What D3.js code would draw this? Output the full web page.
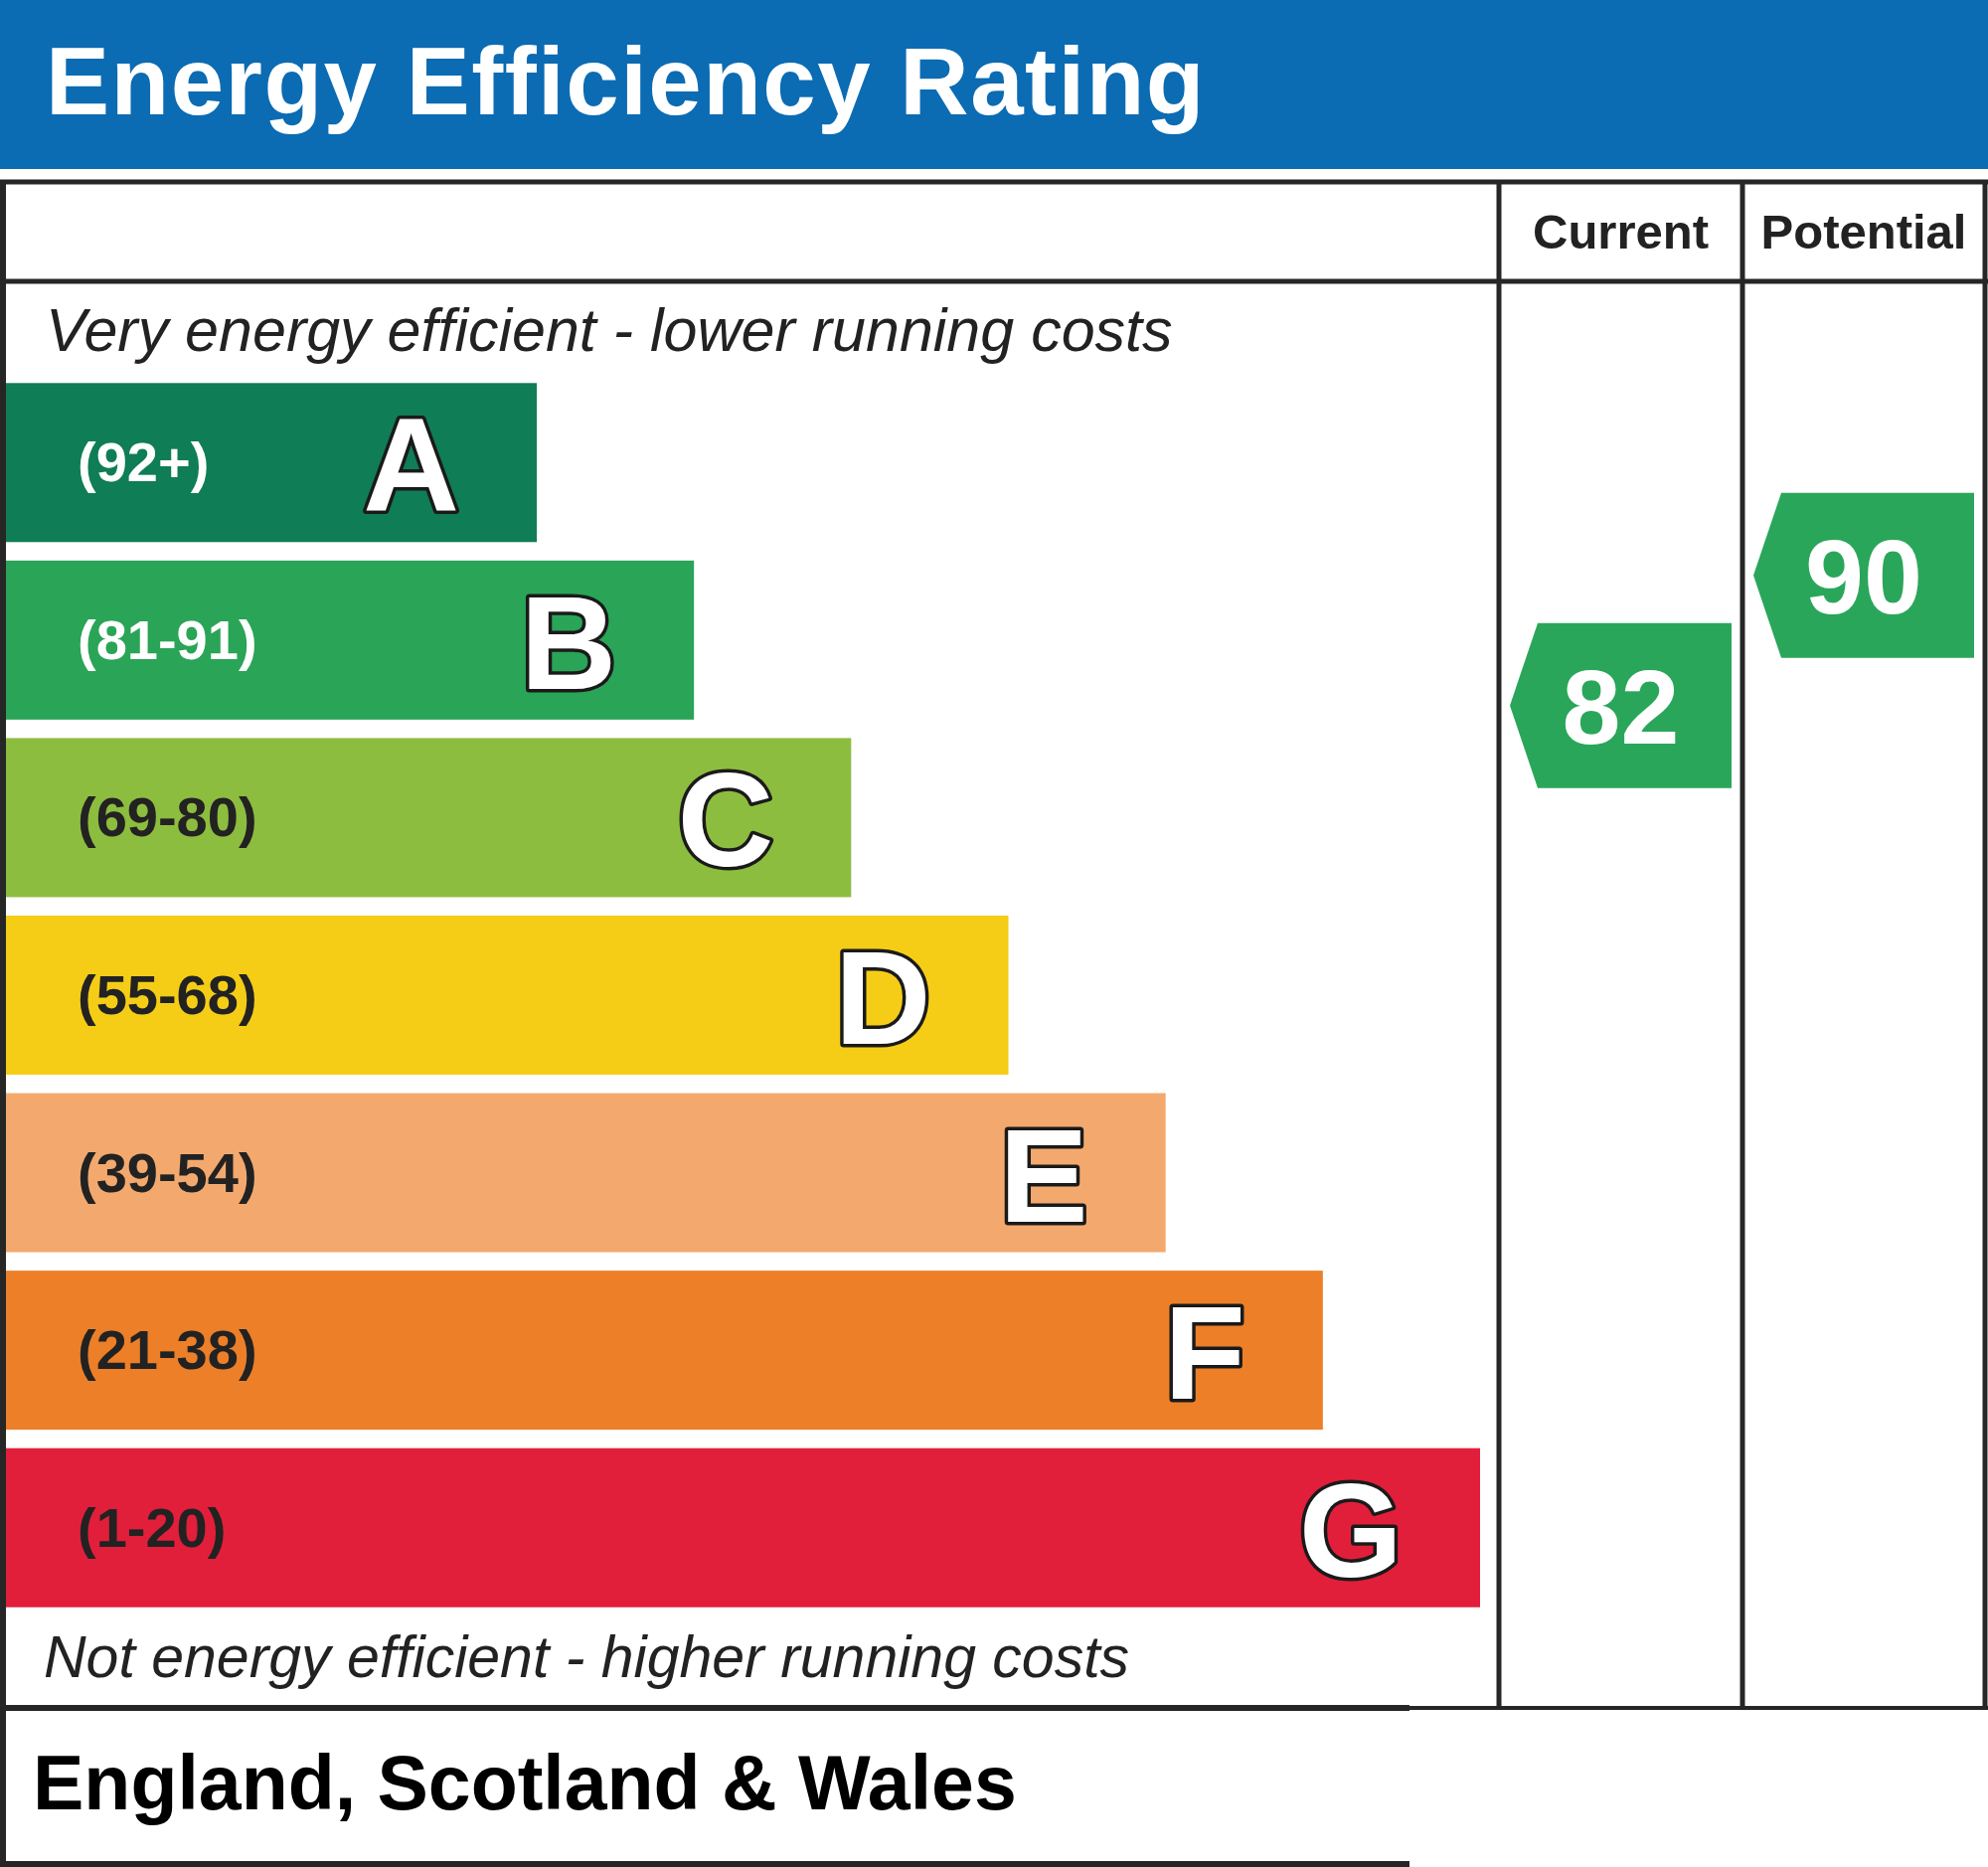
<!DOCTYPE html>
<html>
<head>
<meta charset="utf-8">
<script src="https://d3js.org/d3.v7.min.js"></script>
<style>
    body { margin: 0; background: #fff; }
    svg { display: block; }
    text { font-family: "Liberation Sans", Arial, sans-serif; }
</style>
</head>
<body>
<svg id="epc" width="2000" height="1878"></svg>
<script>
// bands, top (most efficient) to bottom
const bands = ["A", "B", "C", "D", "E", "F", "G"];
const bandRanges = ["(92+)", "(81-91)", "(69-80)", "(55-68)", "(39-54)", "(21-38)", "(1-20)"];
const bandColors = ["#0f7d56", "#2aa457", "#8dbd3f", "#f5cd17", "#f3a96e", "#ec7f28", "#e11f3a"];
const rangeTextColors = ["#ffffff", "#ffffff", "#222222", "#222222", "#222222", "#222222", "#222222"];

// rating columns
const columns = ["Current", "Potential"];
const ratings = [82, 90];
const ratingColors = ["#2aa65a", "#2aa65a"];

const titleText = "Energy Efficiency Rating";
const topNote = "Very energy efficient - lower running costs";
const bottomNote = "Not energy efficient - higher running costs";
const footerText = "England, Scotland & Wales";

/**
 * Basic sizes
 */
const W = 2000;
const headerH = 170;
const tableTop = 183;
const headRow = 283;
const tableBottom = 1718;
const footerBottom = 1875;
const footerRight = 1418;
const colEdges = [1508, 1753, 1997];
const lineColor = "#262626";

const svg = d3.select("#epc");

// scales
const yBand = d3.scaleBand()
    .domain(bands)
    .range([376, 1626])
    .paddingInner(0.104)
    .paddingOuter(0.052);

const xRight = d3.scaleLinear().domain([0, bands.length - 1]).range([540, 1489]);

// arrow centre position by rating value
const yRating = d3.scaleLinear().domain([81, 92]).range([726, 546]);

/**
 * Title banner
 */
svg.append("rect")
    .attr("x", 0).attr("y", 0)
    .attr("width", W).attr("height", headerH)
    .attr("fill", "#0b6bb3");

svg.append("text")
    .attr("x", 46).attr("y", 115)
    .attr("fill", "#fff")
    .attr("font-size", 96)
    .attr("font-weight", "bold")
    .attr("letter-spacing", 1.5)
    .text(titleText);

/**
 * Bars
 */
const rows = svg.append("g").selectAll("g")
    .data(bands)
    .join("g");

rows.append("rect")
    .attr("x", 6)
    .attr("y", d => yBand(d))
    .attr("width", (d, i) => xRight(i) - 6)
    .attr("height", yBand.bandwidth())
    .attr("fill", (d, i) => bandColors[i]);

rows.append("text")
    .attr("x", 78)
    .attr("y", d => yBand(d) + yBand.bandwidth() / 2 + 19)
    .attr("fill", (d, i) => rangeTextColors[i])
    .attr("font-size", 56)
    .attr("font-weight", "bold")
    .text((d, i) => bandRanges[i]);

rows.append("text")
    .attr("x", (d, i) => xRight(i) - 78)
    .attr("y", d => yBand(d) + yBand.bandwidth() / 2 + 49)
    .attr("text-anchor", "end")
    .attr("fill", "#fff")
    .attr("stroke", "#1a1a1a")
    .attr("stroke-width", 7)
    .attr("stroke-linejoin", "round")
    .attr("paint-order", "stroke")
    .attr("font-size", 134)
    .attr("font-weight", "bold")
    .text(d => d);

/**
 * Notes
 */
svg.append("text")
    .attr("x", 46).attr("y", 353)
    .attr("fill", "#222")
    .attr("font-size", 61)
    .attr("font-style", "italic")
    .text(topNote);

svg.append("text")
    .attr("x", 44).attr("y", 1687)
    .attr("fill", "#222")
    .attr("font-size", 59)
    .attr("font-style", "italic")
    .text(bottomNote);

svg.append("text")
    .attr("x", 33).attr("y", 1820)
    .attr("fill", "#000")
    .attr("font-size", 77)
    .attr("font-weight", "bold")
    .text(footerText);

/**
 * Rating columns
 */
const cols = svg.append("g").selectAll("g")
    .data(columns)
    .join("g");

cols.append("text")
    .attr("x", (d, i) => (colEdges[i] + colEdges[i + 1]) / 2)
    .attr("y", 250)
    .attr("text-anchor", "middle")
    .attr("fill", "#222")
    .attr("font-size", 49)
    .attr("font-weight", "bold")
    .text(d => d);

const arrowH = 166;
const tipW = 28;

function arrowPath(x0, x1, cy) {
    const h = arrowH / 2;
    return d3.line()([
        [x0, cy],
        [x0 + tipW, cy - h],
        [x1, cy - h],
        [x1, cy + h],
        [x0 + tipW, cy + h]
    ]) + "Z";
}

cols.append("path")
    .attr("d", (d, i) => arrowPath(colEdges[i] + 11, colEdges[i + 1] - 11, yRating(ratings[i])))
    .attr("fill", (d, i) => ratingColors[i]);

cols.append("text")
    .attr("x", (d, i) => (colEdges[i] + colEdges[i + 1]) / 2)
    .attr("y", (d, i) => yRating(ratings[i]) + 38)
    .attr("text-anchor", "middle")
    .attr("fill", "#fff")
    .attr("font-size", 106)
    .attr("font-weight", "bold")
    .text((d, i) => ratings[i]);

/**
 * Table lines
 */
const lines = [
    // [x1, y1, x2, y2, width]
    [0, tableTop, W, tableTop, 5],
    [0, headRow, W, headRow, 5],
    [3, tableTop, 3, 1878, 6],
    [colEdges[0], tableTop, colEdges[0], tableBottom, 5],
    [colEdges[1], tableTop, colEdges[1], tableBottom, 5],
    [colEdges[2], tableTop, colEdges[2], tableBottom, 5],
    [0, tableBottom, footerRight, tableBottom, 6],
    [footerRight, tableBottom, W, tableBottom, 4],
    [0, footerBottom, footerRight, footerBottom, 6]
];

svg.append("g").selectAll("line")
    .data(lines)
    .join("line")
    .attr("x1", d => d[0]).attr("y1", d => d[1])
    .attr("x2", d => d[2]).attr("y2", d => d[3])
    .attr("stroke", lineColor)
    .attr("stroke-width", d => d[4]);
</script>
</body>
</html>
